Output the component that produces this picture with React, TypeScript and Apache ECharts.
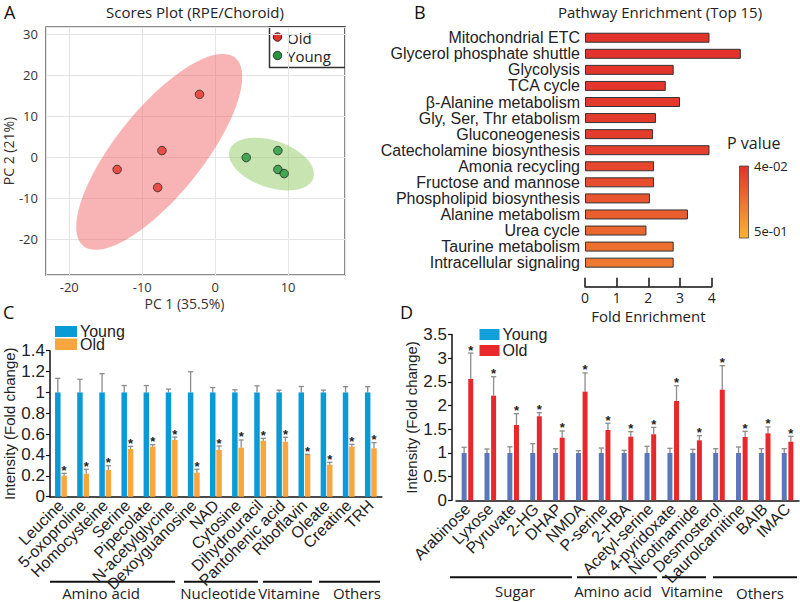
import React, { useEffect, useRef } from 'react';
import * as echarts from 'echarts';

// ---------- Panel A: PCA scores ----------
const pcaOldX = [-2.15, -7.3, -13.44, -7.88];
const pcaOldY = [15.3, 1.6, -3.0, -7.4];
const pcaYoungX = [4.26, 8.6, 8.6, 9.46];
const pcaYoungY = [-0.1, 1.6, -3.0, -4.0];
// confidence ellipses: centre x, centre y, semi-axis 1 (dx, dy), semi-axis 2 (dx, dy) in data units
const ellipseOld = [-7.67, 1.29, 10.42, 22.9, 4.57, -6.73];
const ellipseYoung = [7.72, -1.68, 5.74, -3.4, -0.98, -5.44];
const pcaGroups = ['Old', 'Young'];

// ---------- Panel B: pathway enrichment ----------
const pathways = [
  'Mitochondrial ETC', 'Glycerol phosphate shuttle', 'Glycolysis', 'TCA cycle',
  'β-Alanine metabolism', 'Gly, Ser, Thr etabolism', 'Gluconeogenesis',
  'Catecholamine biosynthesis', 'Amonia recycling', 'Fructose and mannose',
  'Phospholipid biosynthesis', 'Alanine metabolism', 'Urea cycle',
  'Taurine metabolism', 'Intracellular signaling',
];
const foldEnrichment = [3.93, 4.92, 2.8, 2.55, 3.0, 2.24, 2.15, 3.93, 2.18, 2.18, 2.05, 3.25, 1.94, 2.8, 2.8];
const pValues = [0.04, 0.042, 0.047, 0.053, 0.06, 0.07, 0.08, 0.09, 0.115, 0.135, 0.165, 0.195, 0.225, 0.26, 0.29];
const pLegendLabels = ['4e-02', '5e-01'];
const enrichTicks = [0, 1, 2, 3, 4];

// ---------- Panel C ----------
const metabC = ['Leucine', '5-oxoproline', 'Homocysteine', 'Serine', 'Pipecolate', 'N-acetylglycine',
  'Dexoyguanosine', 'NAD', 'Cytosine', 'Dihydrouracil', 'Pantohenic acid', 'Riboflavin', 'Oleate',
  'Creatine', 'TRH'];
const youngC = [1, 1, 1, 1, 1, 1, 1, 1, 1, 1, 1, 1, 1, 1, 1];
const youngErrC = [1.135, 1.125, 1.18, 1.066, 1.066, 1.032, 1.198, 1.047, 1.025, 1.063, 1.022, 1.057, 1.022, 1.055, 1.055];
const oldC = [0.201, 0.22, 0.256, 0.457, 0.48, 0.544, 0.23, 0.448, 0.47, 0.537, 0.527, 0.4, 0.307, 0.48, 0.464];
const oldErrC = [0.224, 0.263, 0.297, 0.483, 0.499, 0.572, 0.263, 0.486, 0.544, 0.56, 0.57, 0.406, 0.33, 0.502, 0.518];
const groupsC = ['Amino acid', 'Nucleotide', 'Vitamine', 'Others'];

// ---------- Panel D ----------
const metabD = ['Arabinose', 'Lyxose', 'Pyruvate', '2-HG', 'DHAP', 'NMDA', 'P-serine', '2-HBA',
  'Acetyl-serine', '4-pyridoxate', 'Nicotinamide', 'Desmosterol', 'Laurolcarnitine', 'BAIB', 'IMAC'];
const youngD = [1, 1, 1, 1, 1, 1, 1, 1, 1, 1, 1, 1, 1, 1, 1];
const youngErrD = [1.12, 1.084, 1.13, 1.196, 1.09, 1.048, 1.105, 1.056, 1.14, 1.098, 1.077, 1.09, 1.126, 1.09, 1.09];
const oldD = [2.563, 2.21, 1.59, 1.775, 1.323, 2.295, 1.485, 1.344, 1.394, 2.098, 1.267, 2.337, 1.337, 1.415, 1.238];
const oldErrD = [3.11, 2.61, 1.83, 1.85, 1.464, 2.69, 1.627, 1.45, 1.54, 2.42, 1.365, 2.844, 1.457, 1.549, 1.352];
const groupsD = ['Sugar', 'Amino acid', 'Vitamine', 'Others'];

const legendNames = ['Young', 'Old'];

const AR = "'Liberation Sans', Arial, sans-serif";
const OS = "'Open Sans', sans-serif";

function ellipseRender(fill: string) {
  return (params: any, api: any) => {
    const cx = api.value(0), cy = api.value(1);
    const ux = api.value(2), uy = api.value(3), vx = api.value(4), vy = api.value(5);
    const pts: number[][] = [];
    for (let k = 0; k < 120; k++) {
      const t = (k / 120) * Math.PI * 2;
      pts.push(api.coord([cx + ux * Math.cos(t) + vx * Math.sin(t), cy + uy * Math.cos(t) + vy * Math.sin(t)]));
    }
    return { type: 'polygon', shape: { points: pts }, style: { fill }, silent: true };
  };
}

function errRender(side: number, off: number, star: boolean) {
  return (params: any, api: any) => {
    const i = api.value(0), v = api.value(1), e = api.value(2);
    const b = api.coord([i, v]);
    const t = api.coord([i, e]);
    const x = b[0] + side * off;
    const st = { stroke: '#8c8c8c', lineWidth: 1.3 };
    const children: any[] = [
      { type: 'line', shape: { x1: x, y1: b[1], x2: x, y2: t[1] }, style: st },
      { type: 'line', shape: { x1: x - 2.6, y1: t[1], x2: x + 2.6, y2: t[1] }, style: st },
    ];
    if (star) {
      children.push({
        type: 'text', x, y: t[1] - 3,
        style: { text: '*', align: 'center', verticalAlign: 'middle', font: `bold 13px ${AR}`, fill: '#222' },
      });
    }
    return { type: 'group', children };
  };
}

function legendItem(x: number, y: number, w: number, h: number, color: string, label: string) {
  return [
    { type: 'rect', shape: { x, y, width: w, height: h }, style: { fill: color } },
    { type: 'text', x: x + w + 3, y: y + h / 2, style: { text: label, font: `16px ${AR}`, lineHeight: 12, fill: '#222', verticalAlign: 'middle' } },
  ];
}

function groupAnno(y: number, segs: number[][], labels: string[], centers: number[], ly: number[]) {
  const out: any[] = [];
  segs.forEach((s, k) => {
    out.push({ type: 'line', shape: { x1: s[0], y1: y, x2: s[1], y2: y }, style: { stroke: '#111', lineWidth: 2 } });
    out.push({ type: 'text', x: centers[k], y: ly[k], style: { text: labels[k], font: `15px ${OS}`, fill: '#222', align: 'center', verticalAlign: 'middle' } });
  });
  return out;
}

function buildOption(): any {
  const catAxisLabel = { interval: 0, rotate: 45, fontSize: 16, color: '#222', fontFamily: AR, margin: 6 };
  const valAxisCommon = {
    axisLine: { show: true, lineStyle: { color: '#111', width: 1.5 } },
    axisTick: { show: true, length: 4, lineStyle: { color: '#111', width: 1.2 } },
    splitLine: { show: false },
    axisLabel: { fontSize: 17, color: '#222', fontFamily: AR, margin: 5 },
    nameLocation: 'middle',
    nameTextStyle: { fontSize: 15, color: '#222', fontFamily: AR },
  };
  return {
    animation: false,
    backgroundColor: '#fff',
    grid: [
      { left: 40, top: 27, width: 305, height: 248, show: true, borderColor: '#666', borderWidth: 1.5, backgroundColor: 'transparent' },
      { left: 585, top: 29.7, width: 126.7, height: 241 },
      { left: 49.9, top: 350.7, width: 332, height: 146 },
      { left: 456, top: 334.6, width: 343, height: 165.7 },
    ],
    xAxis: [
      {
        gridIndex: 0, type: 'value', min: -23.2, max: 17.8, splitNumber: 4,
        axisLine: { show: false }, axisTick: { show: false },
        splitLine: { show: true, lineStyle: { color: '#e4e4e4', width: 1 } },
        axisLabel: { fontSize: 13, color: '#333', fontFamily: OS, margin: 5, showMinLabel: false, showMaxLabel: false },
        name: 'PC 1 (35.5%)', nameLocation: 'middle', nameGap: 21,
        nameTextStyle: { fontSize: 14, lineHeight: 14, color: '#333', fontFamily: OS, padding: [0, 22, 0, 0] },
      },
      {
        gridIndex: 1, type: 'value', min: enrichTicks[0], max: enrichTicks[enrichTicks.length - 1], interval: 1, offset: 16,
        axisLine: { show: true, lineStyle: { color: '#111', width: 1.5 } },
        axisTick: { show: true, inside: true, length: 9, lineStyle: { color: '#111', width: 1.5 } },
        splitLine: { show: false },
        axisLabel: { fontSize: 14, color: '#222', fontFamily: OS, margin: 4 },
        name: 'Fold Enrichment', nameLocation: 'middle', nameGap: 22,
        nameTextStyle: { fontSize: 15, lineHeight: 15, color: '#222', fontFamily: OS },
      },
      {
        gridIndex: 2, type: 'category', data: metabC,
        axisLine: { show: true, lineStyle: { color: '#111', width: 1.5 } },
        axisTick: { show: false }, axisLabel: catAxisLabel,
      },
      {
        gridIndex: 3, type: 'category', data: metabD,
        axisLine: { show: true, lineStyle: { color: '#111', width: 1.5 } },
        axisTick: { show: false }, axisLabel: catAxisLabel,
      },
    ],
    yAxis: [
      {
        gridIndex: 0, type: 'value', min: -28.7, max: 31.7, splitNumber: 6,
        axisLine: { show: false }, axisTick: { show: false },
        splitLine: { show: true, lineStyle: { color: '#e4e4e4', width: 1 } },
        axisLabel: { fontSize: 13, color: '#333', fontFamily: OS, margin: 8, showMinLabel: false, showMaxLabel: false },
        name: 'PC 2 (21%)', nameLocation: 'middle', nameGap: 24,
        nameTextStyle: { fontSize: 14, color: '#333', fontFamily: OS },
      },
      {
        gridIndex: 1, type: 'category', data: pathways, inverse: true,
        axisLine: { show: false }, axisTick: { show: false },
        axisLabel: { interval: 0, fontSize: 16, color: '#222', fontFamily: AR, margin: 5 },
      },
      {
        gridIndex: 2, type: 'value', min: 0, max: 1.4, interval: 0.2, ...valAxisCommon,
        name: 'Intensity (Fold change)', nameGap: 31,
      },
      {
        gridIndex: 3, type: 'value', min: 0, max: 3.5, interval: 0.5, ...valAxisCommon, offset: 4,
        name: 'Intensity (Fold change)', nameGap: 27,
      },
    ],
    visualMap: [
      {
        type: 'continuous', show: false, seriesIndex: 4, dimension: 2,
        min: 0.04, max: 0.5, inRange: { color: ['#e3322c', '#f9b433'] },
      },
    ],
    series: [
      {
        type: 'custom', xAxisIndex: 0, yAxisIndex: 0, renderItem: ellipseRender('rgba(241, 95, 95, 0.47)'),
        data: [ellipseOld], encode: { x: 0, y: 1 }, z: 1, silent: true,
      },
      {
        type: 'custom', xAxisIndex: 0, yAxisIndex: 0, renderItem: ellipseRender('rgba(140, 198, 90, 0.48)'),
        data: [ellipseYoung], encode: { x: 0, y: 1 }, z: 1, silent: true,
      },
      {
        name: pcaGroups[0], type: 'scatter', xAxisIndex: 0, yAxisIndex: 0, symbolSize: 8.5, z: 3,
        itemStyle: { color: '#e5332a', borderColor: '#222', borderWidth: 1 },
        data: pcaOldX.map((x, i) => [x, pcaOldY[i]]),
      },
      {
        name: pcaGroups[1], type: 'scatter', xAxisIndex: 0, yAxisIndex: 0, symbolSize: 8.5, z: 3,
        itemStyle: { color: '#22973c', borderColor: '#222', borderWidth: 1 },
        data: pcaYoungX.map((x, i) => [x, pcaYoungY[i]]),
      },
      {
        type: 'bar', xAxisIndex: 1, yAxisIndex: 1, barWidth: 10, clip: false,
        encode: { x: 0, y: 1 },
        itemStyle: { borderColor: '#333', borderWidth: 1 },
        data: pathways.map((n, i) => [foldEnrichment[i], n, pValues[i]]),
      },
      {
        name: legendNames[0], type: 'bar', xAxisIndex: 2, yAxisIndex: 2, barWidth: 5.5, barGap: '15%',
        itemStyle: { color: '#0a9ad6' }, data: youngC,
      },
      {
        name: legendNames[1], type: 'bar', xAxisIndex: 2, yAxisIndex: 2, barWidth: 5.5, barGap: '15%',
        itemStyle: { color: '#f8a63d' }, data: oldC,
      },
      {
        type: 'custom', xAxisIndex: 2, yAxisIndex: 2, renderItem: errRender(-1, 3.16, false), z: 1,
        data: metabC.map((_, i) => [i, youngC[i], youngErrC[i]]), encode: { x: 0, y: 2 },
      },
      {
        type: 'custom', xAxisIndex: 2, yAxisIndex: 2, renderItem: errRender(1, 3.16, true), z: 1,
        data: metabC.map((_, i) => [i, oldC[i], oldErrC[i]]), encode: { x: 0, y: 2 },
      },
      {
        name: legendNames[0], type: 'bar', xAxisIndex: 3, yAxisIndex: 3, barWidth: 5, barGap: '32%',
        itemStyle: { color: '#5a77b9' }, data: youngD,
      },
      {
        name: legendNames[1], type: 'bar', xAxisIndex: 3, yAxisIndex: 3, barWidth: 5, barGap: '32%',
        itemStyle: { color: '#e8282b' }, data: oldD,
      },
      {
        type: 'custom', xAxisIndex: 3, yAxisIndex: 3, renderItem: errRender(-1, 3.3, false), z: 1,
        data: metabD.map((_, i) => [i, youngD[i], youngErrD[i]]), encode: { x: 0, y: 2 },
      },
      {
        type: 'custom', xAxisIndex: 3, yAxisIndex: 3, renderItem: errRender(1, 3.3, true), z: 1,
        data: metabD.map((_, i) => [i, oldD[i], oldErrD[i]]), encode: { x: 0, y: 2 },
      },
    ],
    graphic: [
      // panel letters
      { type: 'text', x: 4, y: 12, style: { text: 'A', font: `18px ${OS}`, fill: '#111', verticalAlign: 'middle' } },
      { type: 'text', x: 414, y: 12, style: { text: 'B', font: `18px ${OS}`, fill: '#111', verticalAlign: 'middle' } },
      { type: 'text', x: 3, y: 312, style: { text: 'C', font: `18px ${OS}`, fill: '#111', verticalAlign: 'middle' } },
      { type: 'text', x: 400, y: 312, style: { text: 'D', font: `18px ${OS}`, fill: '#111', verticalAlign: 'middle' } },
      // titles
      { type: 'text', x: 195, y: 12, style: { text: 'Scores Plot (RPE/Choroid)', font: `15px ${OS}`, fill: '#222', align: 'center', verticalAlign: 'middle' } },
      { type: 'text', x: 660, y: 12, style: { text: 'Pathway Enrichment (Top 15)', font: `15px ${OS}`, fill: '#222', align: 'center', verticalAlign: 'middle' } },
      // legend A
      {
        type: 'group', z: 10, children: [
          { type: 'rect', shape: { x: 269.5, y: 27, width: 75.5, height: 40.5 }, style: { fill: '#fff', stroke: '#333', lineWidth: 1.5 } },
          { type: 'circle', shape: { cx: 277.5, cy: 37, r: 4.2 }, style: { fill: '#e5332a', stroke: '#222', lineWidth: 1 } },
          { type: 'text', x: 287, y: 37.5, style: { text: pcaGroups[0], font: `15px ${OS}`, lineHeight: 15, fill: '#222', verticalAlign: 'middle' } },
          { type: 'circle', shape: { cx: 277.5, cy: 55.5, r: 4.2 }, style: { fill: '#22973c', stroke: '#222', lineWidth: 1 } },
          { type: 'text', x: 287, y: 56, style: { text: pcaGroups[1], font: `15px ${OS}`, lineHeight: 15, fill: '#222', verticalAlign: 'middle' } },
        ],
      },
      // P value legend
      { type: 'text', x: 727, y: 143, style: { text: 'P value', font: `16px ${OS}`, fill: '#222', verticalAlign: 'middle' } },
      {
        type: 'rect', shape: { x: 739.5, y: 166, width: 9, height: 72 },
        style: {
          stroke: '#444', lineWidth: 0.8,
          fill: new echarts.graphic.LinearGradient(0, 0, 0, 1, [
            { offset: 0, color: '#e3322c' }, { offset: 1, color: '#f9b433' },
          ]),
        },
      },
      { type: 'text', x: 754, y: 166, style: { text: pLegendLabels[0], font: `13px ${OS}`, fill: '#222', verticalAlign: 'middle' } },
      { type: 'text', x: 754, y: 231, style: { text: pLegendLabels[1], font: `13px ${OS}`, fill: '#222', verticalAlign: 'middle' } },
      // legend C
      ...legendItem(55, 326, 22, 11, '#0a9ad6', legendNames[0]),
      ...legendItem(55, 338.5, 22, 11.5, '#f8a63d', legendNames[1]),
      // legend D
      ...legendItem(479.5, 329, 20, 11, '#12a0dc', legendNames[0]),
      ...legendItem(479.5, 345, 20, 11, '#e8282b', legendNames[1]),
      // group annotations
      ...groupAnno(581.7, [[50, 175], [184, 258], [263, 312], [319, 380]], groupsC, [101, 218, 289, 357], [593, 593, 593, 593]),
      ...groupAnno(577.3, [[450, 572], [577, 657], [662, 706], [713, 797]], groupsD, [515, 613, 692, 760], [591, 591, 591, 593]),
    ],
  };
}

export default function App() {
  const ref = useRef<HTMLDivElement>(null);
  useEffect(() => {
    document.body.style.margin = '0';
    const chart = echarts.init(ref.current as HTMLDivElement, null, { renderer: 'svg' });
    chart.setOption(buildOption());
    return () => chart.dispose();
  }, []);
  return (
    <div
      ref={ref}
      style={{ position: 'fixed', left: 0, top: 0, width: 800, height: 602, background: '#fff' }}
    />
  );
}
